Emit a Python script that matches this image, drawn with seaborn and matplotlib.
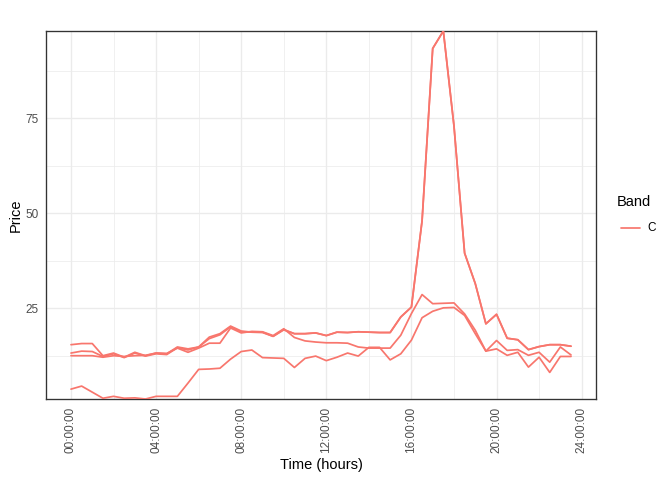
import numpy as np
import pandas as pd
import matplotlib
matplotlib.use("Agg")
import matplotlib.pyplot as plt
import seaborn as sns
from matplotlib.lines import Line2D
from matplotlib.ticker import FixedLocator

# ---- data (half-hourly prices, band C, four days) ----
times = ["%02d:%02d:00" % (h, m) for h in range(24) for m in (0, 30)]

day_1 = [15.4, 15.7, 15.7, 12.5, 13.2, 12.1, 13.4, 12.5, 13.2, 13.0, 14.8, 14.3,
         14.8, 17.4, 18.3, 20.3, 19.0, 18.7, 18.7, 17.6, 19.4, 18.3, 18.3, 18.5,
         17.8, 18.7, 18.6, 18.8, 18.7, 18.6, 18.6, 22.7, 25.3, 48.0, 93.4, 98.0,
         73.0, 39.5, 31.5, 20.9, 23.4, 17.1, 16.7, 14.1, 14.9, 15.4, 15.4, 15.0]
day_2 = [13.2, 13.7, 13.6, 12.3, 13.0, 12.0, 13.2, 12.4, 13.0, 12.8, 14.6, 14.0,
         14.8, 17.0, 18.0, 20.1, 18.8, 18.7, 18.6, 17.6, 19.3, 18.3, 18.3, 18.5,
         17.8, 18.7, 18.6, 18.8, 18.7, 18.6, 18.6, 22.7, 25.3, 48.0, 93.4, 98.0,
         73.0, 39.5, 31.5, 20.9, 23.4, 17.1, 16.7, 14.1, 14.9, 15.4, 15.4, 15.0]
day_3 = [12.5, 12.5, 12.5, 12.1, 12.5, 12.3, 12.5, 12.6, 13.2, 13.1, 14.5, 13.4,
         14.5, 15.8, 15.8, 19.8, 18.5, 18.9, 18.8, 17.8, 19.6, 17.3, 16.4, 16.1,
         15.9, 15.9, 15.8, 14.8, 14.5, 14.5, 14.5, 17.9, 23.6, 28.6, 26.2, 26.3,
         26.4, 23.5, 19.2, 13.7, 16.5, 13.9, 14.1, 12.6, 13.4, 10.8, 14.8, 12.7]
day_4 = [3.7, 4.5, 2.9, 1.3, 1.8, 1.3, 1.4, 1.1, 1.8, 1.8, 1.8, 5.3,
         8.9, 9.0, 9.2, 11.6, 13.6, 14.0, 12.0, 11.9, 11.8, 9.4, 11.8, 12.4,
         11.2, 12.1, 13.2, 12.4, 14.7, 14.7, 11.4, 13.0, 16.6, 22.5, 24.2, 25.1,
         25.2, 23.1, 18.3, 13.7, 14.3, 12.6, 13.4, 9.5, 12.1, 8.1, 12.3, 12.3]
days = {"d1": day_1, "d2": day_2, "d3": day_3, "d4": day_4}
band = "C"

x_tick_hours = [0, 4, 8, 12, 16, 20, 24]
x_tick_labels = ["00:00:00", "04:00:00", "08:00:00", "12:00:00",
                 "16:00:00", "20:00:00", "24:00:00"]
y_ticks = [25, 50, 75]

# ---- long table ----
hours = pd.to_timedelta(times).total_seconds() / 3600.0
frames = []
for d, vals in days.items():
    frames.append(pd.DataFrame({"Time": hours, "Price": vals, "Band": band, "Day": d}))
df = pd.concat(frames, ignore_index=True)

# ---- styling ----
sns.set_style("white")
plt.rcParams["font.family"] = ["Liberation Sans", "DejaVu Sans"]
line_col = "#F8766D"

fig = plt.figure(figsize=(7, 5), dpi=96)
ax = fig.add_axes([46 / 672, 1 - 399 / 480, (596 - 46) / 672, (399 - 31) / 480])

sns.lineplot(data=df, x="Time", y="Price", hue="Band", units="Day",
             estimator=None, sort=False, palette={band: line_col},
             linewidth=1.3, legend=False, ax=ax, zorder=3)

xmin, xmax = df["Time"].min(), df["Time"].max()
pad = 0.05 * (xmax - xmin)
ax.set_xlim(xmin - pad, xmax + pad)
ax.set_ylim(df["Price"].min(), df["Price"].max())

ax.set_xticks(x_tick_hours)
ax.set_xticklabels(x_tick_labels, rotation=90)
ax.xaxis.set_minor_locator(FixedLocator([h + 2 for h in x_tick_hours[:-1]]))
ax.set_yticks(y_ticks)
ax.yaxis.set_minor_locator(FixedLocator([12.5, 37.5, 62.5, 87.5]))

ax.grid(True, which="major", color="#EBEBEB", linewidth=1.0, zorder=0)
ax.grid(True, which="minor", color="#EBEBEB", linewidth=0.55, zorder=0)
ax.set_axisbelow(True)
for s in ax.spines.values():
    s.set_color("#333333")
    s.set_linewidth(1.0)

ax.tick_params(axis="both", which="major", direction="out", length=3.2,
               width=0.8, color="#333333", labelcolor="#4D4D4D",
               labelsize=8.8, pad=2.5)
ax.tick_params(axis="both", which="minor", length=0)

ax.set_xlabel("Time (hours)", fontsize=11, color="black", labelpad=4)
ax.set_ylabel("Price", fontsize=11, color="black", labelpad=2)

# legend (ggplot-like placement: title above, key line + label below)
fig.text(617 / 672, 1 - 202 / 480, "Band", fontsize=11, color="black",
         ha="left", va="center")
fig.add_artist(Line2D([621 / 672, 640 / 672], [1 - 228 / 480, 1 - 228 / 480],
                      color=line_col, linewidth=1.3, transform=fig.transFigure))
fig.text(647 / 672, 1 - 228 / 480, band, fontsize=8.8, color="black",
         ha="left", va="center")

fig.savefig("out.png", dpi=96)
